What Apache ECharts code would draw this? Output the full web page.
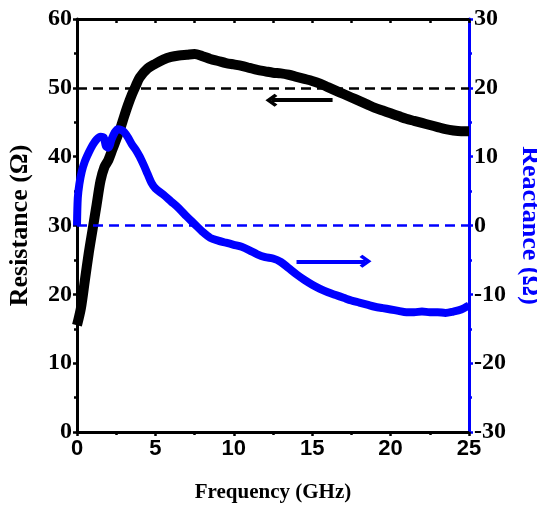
<!DOCTYPE html>
<html>
<head>
<meta charset="utf-8">
<script src="https://cdn.jsdelivr.net/npm/echarts@6/dist/echarts.min.js"></script>
<style>html,body{margin:0;padding:0;background:#fff}#c{width:537px;height:509px}</style>
</head>
<body>
<div id="c"></div>
<script>
const freqR = [0,0.25,0.5,0.75,1.0,1.25,1.5,1.75,2.0,2.25,2.5,2.75,3.0,3.25,3.5,3.75,4.0,4.5,5.0,5.5,6.0,6.5,7.0,7.5,8.0,8.5,9.0,9.5,10,10.5,11,11.5,12,12.5,13,13.5,14,14.5,15,15.5,16,16.5,17,17.5,18,18.5,19,19.5,20,20.5,21,21.5,22,22.5,23,23.5,24,24.5,25];
const resistance = [15.5,18,22,26,29.5,33,36.5,38.5,39.5,41,42.5,44,45.8,47.5,49,50.3,51.5,52.8,53.5,54.1,54.5,54.7,54.8,54.9,54.6,54.2,53.9,53.6,53.4,53.2,52.9,52.6,52.4,52.2,52.1,51.9,51.6,51.3,51.0,50.6,50.1,49.6,49.1,48.6,48.1,47.6,47.1,46.7,46.3,45.9,45.5,45.2,44.9,44.6,44.3,44.0,43.8,43.7,43.7];
const freqX = [0,0.05,0.15,0.3,0.5,0.75,1.0,1.25,1.5,1.7,1.85,2.0,2.2,2.4,2.6,2.8,3.0,3.25,3.5,3.75,4.0,4.25,4.5,4.75,5.0,5.5,6.0,6.5,7.0,7.5,8.0,8.5,9.0,9.5,10.0,10.5,11.0,11.5,12.0,12.5,13.0,13.5,14.0,14.5,15,15.5,16,16.5,17,17.5,18,18.5,19,19.5,20,20.5,21,21.5,22,22.5,23,23.5,24,24.5,25];
const reactance = [0,4,6,7.8,9.3,10.6,11.7,12.5,12.9,12.8,11.5,11.3,12.5,13.5,14.0,13.9,13.6,12.8,11.8,11,10,8.8,7.5,6.2,5.4,4.5,3.5,2.5,1.3,0.2,-0.9,-1.8,-2.2,-2.5,-2.8,-3.1,-3.6,-4.2,-4.6,-4.8,-5.3,-6.2,-7.1,-7.9,-8.6,-9.2,-9.7,-10.1,-10.5,-10.9,-11.2,-11.5,-11.8,-12.0,-12.2,-12.4,-12.6,-12.6,-12.5,-12.6,-12.6,-12.7,-12.5,-12.2,-11.6];
const refResistance = 50;
const refReactance = 0;
const arrowR = [[16.3,48.2],[12.4,48.2]];
const arrowX = [[14.0,-5.2],[18.4,-5.2]];

const serif = 'Liberation Serif, Times New Roman, serif';
const narrow = 'Liberation Sans Narrow, Liberation Sans, Arial, sans-serif';
const chev = 'path://M5,0 L10,5.5 L8.3,7.2 L5,3.6 L1.7,7.2 L0,5.5 Z';

const chart = echarts.init(document.getElementById('c'));
chart.setOption({
  animation:false,
  grid:{left:77,right:68,top:19,bottom:77,containLabel:false,outerBoundsMode:'none'},
  xAxis:[{
    type:'value',min:0,max:25,interval:5,position:'bottom',
    name:'Frequency (GHz)',nameLocation:'middle',nameGap:50,
    nameTextStyle:{fontFamily:serif,fontWeight:'bold',fontSize:21,color:'#000'},
    axisLine:{onZero:false,lineStyle:{color:'#000',width:3}},
    axisTick:{show:true,inside:false,length:4,lineStyle:{width:2.5,color:'#000'}},
    minorTick:{show:true,splitNumber:2,length:3,lineStyle:{width:2.5,color:'#000'}},
    axisLabel:{fontFamily:narrow,fontWeight:'bold',fontSize:22,color:'#000',margin:6},
    splitLine:{show:false}
  },{
    type:'value',min:0,max:25,interval:2.5,position:'top',
    axisLine:{onZero:false,lineStyle:{color:'#000',width:3}},
    axisTick:{show:true,inside:true,length:4,lineStyle:{width:2.5,color:'#000'}},
    axisLabel:{show:false},splitLine:{show:false}
  }],
  yAxis:[{
    type:'value',min:0,max:60,interval:10,position:'left',
    name:'Resistance (Ω)',nameLocation:'middle',nameGap:44,nameRotate:90,
    nameTextStyle:{fontFamily:serif,fontWeight:'bold',fontSize:26,color:'#000'},
    axisLine:{show:true,onZero:false,lineStyle:{color:'#000',width:3}},
    axisTick:{show:true,inside:false,length:4,lineStyle:{width:2.5,color:'#000'}},
    minorTick:{show:true,splitNumber:2,length:3,lineStyle:{width:2.5,color:'#000'}},
    axisLabel:{fontFamily:serif,fontWeight:'bold',fontSize:24,color:'#000',margin:5},
    splitLine:{show:false}
  },{
    type:'value',min:-30,max:30,interval:10,position:'right',
    name:'Reactance (Ω)',nameLocation:'middle',nameGap:46,nameRotate:-90,
    nameTextStyle:{fontFamily:serif,fontWeight:'bold',fontSize:26,color:'#0000ff'},
    axisLine:{show:true,onZero:false,lineStyle:{color:'#0000ff',width:3}},
    axisTick:{show:true,inside:false,length:4,lineStyle:{width:2.5,color:'#0000ff'}},
    minorTick:{show:true,splitNumber:2,length:3,lineStyle:{width:2.5,color:'#0000ff'}},
    axisLabel:{fontFamily:serif,fontWeight:'bold',fontSize:24,color:'#000',margin:5},
    splitLine:{show:false}
  }],
  series:[{
    name:'Resistance',type:'line',xAxisIndex:0,yAxisIndex:0,
    data:freqR.map((f,i)=>[f,resistance[i]]),
    showSymbol:false,smooth:0.3,
    lineStyle:{color:'#000',width:10},z:3,
    markLine:{silent:true,animation:false,
      data:[
        [{coord:arrowR[0],symbol:'none'},{coord:arrowR[1],symbol:chev,symbolSize:[13,12]}],
        [{coord:[0,refResistance],symbol:'none',lineStyle:{type:[10,6],width:2.5,color:'#000'}},{coord:[25,refResistance],symbol:'none'}]
      ],
      label:{show:false},
      lineStyle:{color:'#000',width:4,type:'solid'},
      itemStyle:{color:'#000'}
    }
  },{
    name:'Reactance',type:'line',xAxisIndex:0,yAxisIndex:1,
    data:freqX.map((f,i)=>[f,reactance[i]]),
    showSymbol:false,smooth:0.3,
    lineStyle:{color:'#0000ff',width:8},z:4,
    markLine:{silent:true,animation:false,
      data:[
        [{coord:arrowX[0],symbol:'none'},{coord:arrowX[1],symbol:chev,symbolSize:[13,12]}],
        [{coord:[0,refReactance],symbol:'none',lineStyle:{type:[10,6],width:2.5,color:'#0000ff'}},{coord:[25,refReactance],symbol:'none'}]
      ],
      label:{show:false},
      lineStyle:{color:'#0000ff',width:4,type:'solid'},
      itemStyle:{color:'#0000ff'}
    }
  }]
});
</script>
</body>
</html>
